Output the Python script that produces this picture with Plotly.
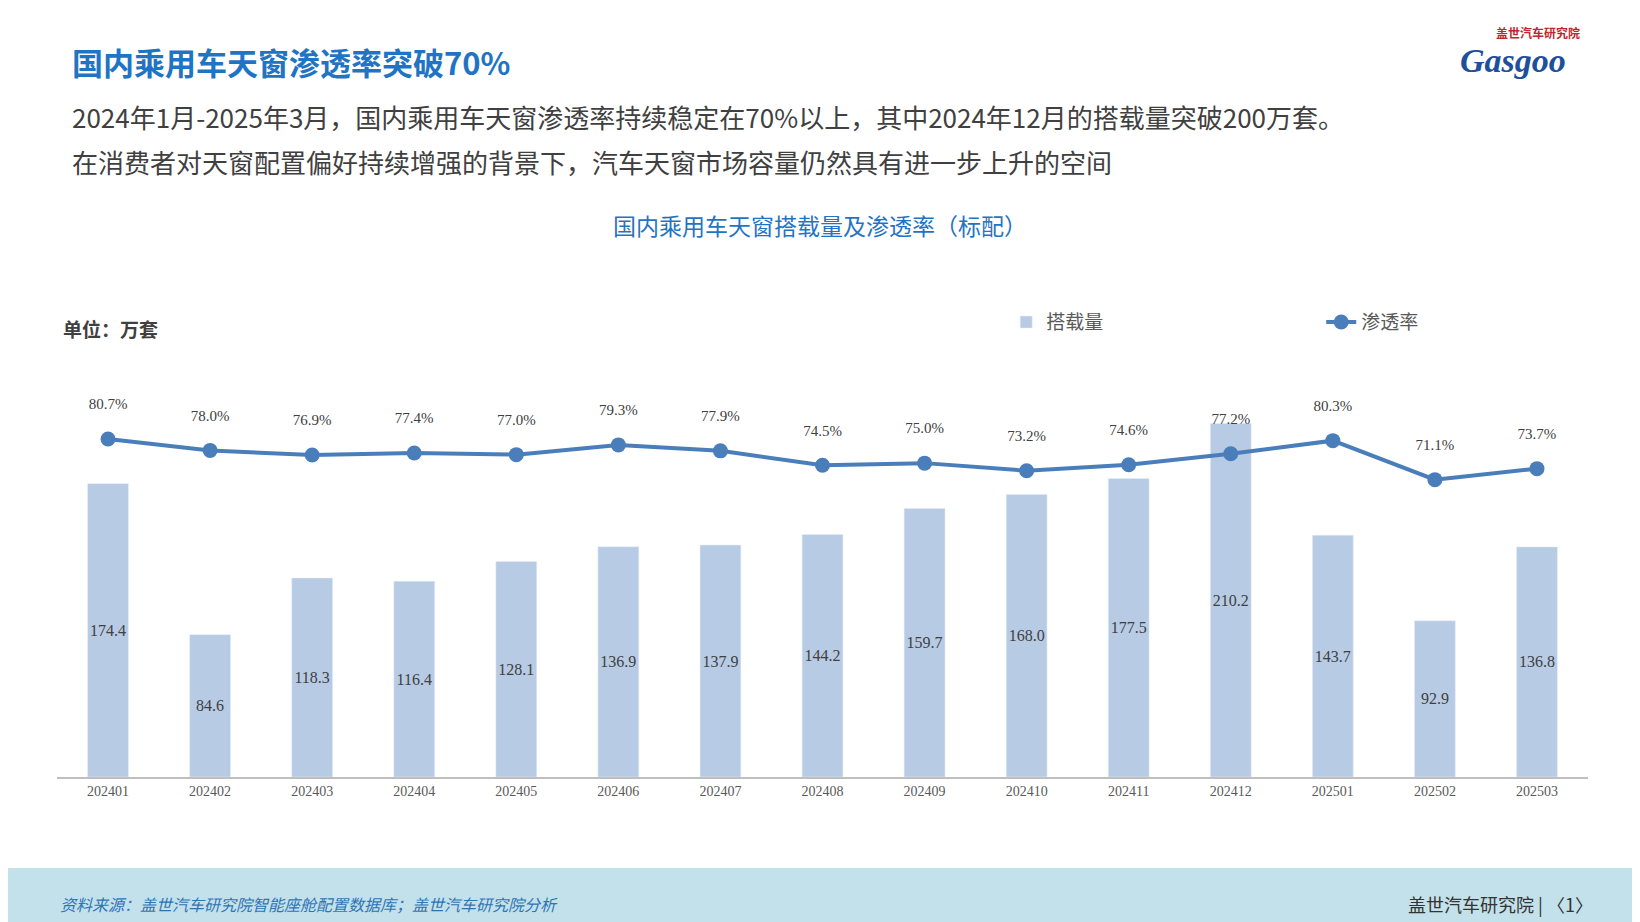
import plotly.graph_objects as go

months = ["202401","202402","202403","202404","202405","202406","202407","202408","202409","202410","202411","202412","202501","202502","202503"]
volume = [174.4,84.6,118.3,116.4,128.1,136.9,137.9,144.2,159.7,168.0,177.5,210.2,143.7,92.9,136.8]
rate = [80.7,78.0,76.9,77.4,77.0,79.3,77.9,74.5,75.0,73.2,74.6,77.2,80.3,71.1,73.7]

W, H = 1640, 922
fig = go.Figure()
fig.add_trace(go.Bar(x=months, y=volume, name="搭载量", marker_color="#b7cbe5", width=0.4,
    text=[f"{v:.1f}" for v in volume], textposition="inside", insidetextanchor="middle",
    textfont=dict(family="Liberation Serif", size=16, color="#404040"), textangle=0))
fig.add_trace(go.Scatter(x=months, y=rate, name="渗透率", yaxis="y2", mode="lines+markers",
    line=dict(color="#4a7ebb", width=4), marker=dict(size=15, color="#4a7ebb")))
fig.add_trace(go.Scatter(x=months, y=rate, yaxis="y2", mode="markers+text", showlegend=False,
    marker=dict(size=40, opacity=0), text=[f"{r:.1f}%" for r in rate], textposition="top center",
    textfont=dict(family="Liberation Serif", size=15, color="#404040"), hoverinfo="skip"))

top, bottom = 330, 769
PW = W - 49 - 55
fig.update_layout(
    width=W, height=H, plot_bgcolor="white", paper_bgcolor="white",
    margin=dict(l=49, r=55, t=top, b=H-bottom),
    showlegend=True, bargap=0.6,
    uniformtext=dict(minsize=16, mode="show"),
    legend=dict(orientation="h", x=0.62, y=1.036, xanchor="left", yanchor="middle",
                font=dict(family="Noto Sans CJK SC", size=19, color="#595959"),
                entrywidth=270, bgcolor="rgba(0,0,0,0)"),
    xaxis=dict(type="category", range=[-0.5, 14.5], showgrid=False, showline=True,
               linecolor="#bfbfbf", linewidth=1.5, ticks="",
               tickfont=dict(family="Liberation Serif", size=14, color="#595959")),
    yaxis=dict(range=[0, 261], visible=False),
    yaxis2=dict(range=[1.0, 104.5], overlaying="y", visible=False),
    shapes=[dict(type="rect", xref="paper", yref="paper", x0=-60/PW, x1=(W-40)/PW,
                 y0=(bottom-930)/(bottom-top), y1=(bottom-860)/(bottom-top),
                 fillcolor="#c3e1ea", line_width=0, layer="below")],
)

def ann(text, x, y, size, color, anchor="left", family="Noto Sans CJK SC", bold=False):
    if bold:
        text = f"<b>{text}</b>"
    fig.add_annotation(text=text, xref="paper", yref="paper",
        x=(x-49)/PW, y=(bottom-y)/(bottom-top), xanchor=anchor, yanchor="middle",
        showarrow=False, font=dict(family=family, size=size, color=color))

ann("国内乘用车天窗渗透率突破70%", 62, 53, 31, "#1f74c4", bold=True)
ann("2024年1月-2025年3月，国内乘用车天窗渗透率持续稳定在70%以上，其中2024年12月的搭载量突破200万套。", 62, 108, 26, "#404040")
ann("在消费者对天窗配置偏好持续增强的背景下，汽车天窗市场容量仍然具有进一步上升的空间", 62, 154, 26, "#404040")
ann("国内乘用车天窗搭载量及渗透率（标配）", 814, 217, 23, "#1f74c4", anchor="center")
ann("单位：万套", 53, 320, 19, "#404040", bold=True)
ann("<i>资料来源：盖世汽车研究院智能座舱配置数据库；盖世汽车研究院分析</i>", 50, 896, 16, "#2e75b6")
ann("盖世汽车研究院 | 〈1〉", 1592, 896, 18, "#333333", anchor="right")
ann("<b>盖世汽车研究院</b>", 1535, 24, 12, "#c0272d", anchor="center")
ann("<i><b>Gasgoo</b></i>", 1510, 52, 34, "#1e4f9c", anchor="center", family="Liberation Serif")

fig.write_html("out.html")
